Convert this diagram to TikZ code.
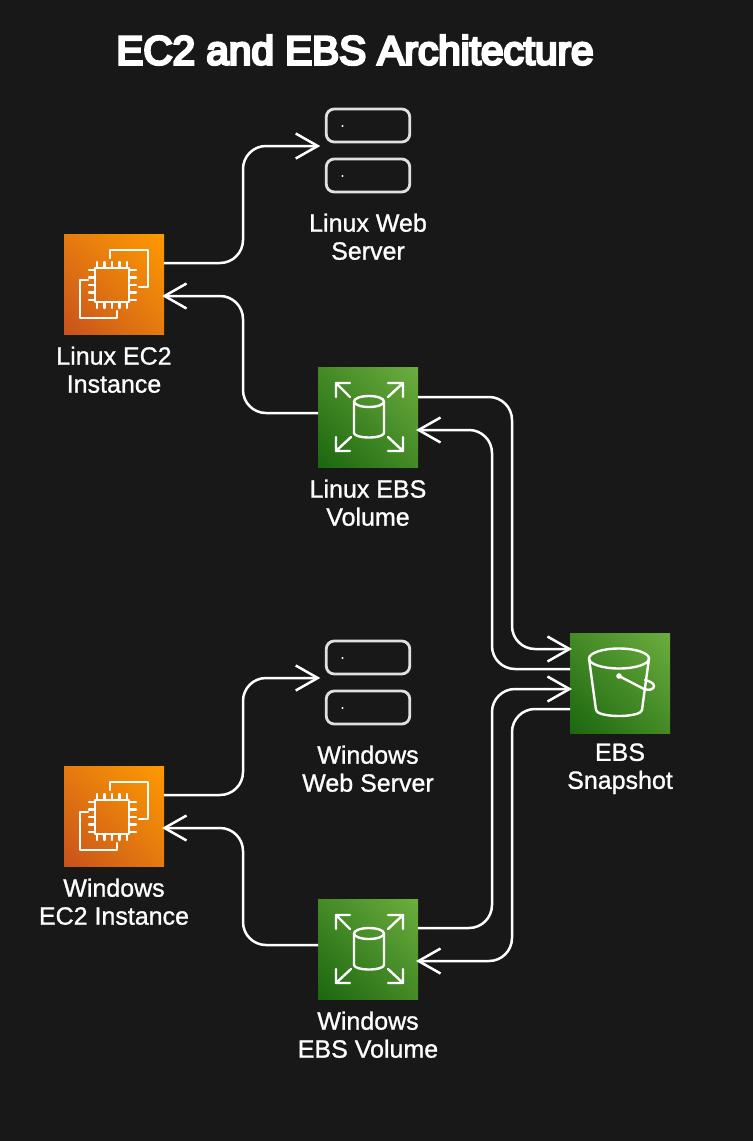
\documentclass[tikz,border=0pt]{standalone}
\usepackage{fontspec}
\setmainfont{Liberation Sans}
\newfontfamily\ttlfont[FakeBold=6.5]{Liberation Sans}
\newfontfamily\lblfont[FakeBold=1]{Liberation Sans}
\usetikzlibrary{arrows.meta,calc,shadings}
\definecolor{bgc}{HTML}{181818}
\definecolor{srv}{HTML}{E0E0E0}
\tikzset{
 x=1pt,y=-1pt,
 ec2box/.style={rectangle,inner sep=0,outer sep=0,minimum size=100pt,shade,shading=bilinear interpolation,lower left=orgD,upper right=orgL,upper left=orgM,lower right=orgM},
 grnbox/.style={rectangle,inner sep=0,outer sep=0,minimum size=100pt,shade,shading=bilinear interpolation,lower left=grnD,upper right=grnL,upper left=grnM,lower right=grnM},
 srvbox/.style={rectangle,draw=srv,line width=2.8pt,rounded corners=8pt,inner sep=0,outer sep=0,minimum width=83.5pt,minimum height=33pt},
 lbl/.style={text=white,align=center,font=\fontsize{25}{28}\selectfont\lblfont,inner sep=0},
 ttl/.style={text=white,font=\fontsize{40.5}{42}\selectfont\ttlfont,inner sep=0},
 conn/.style={draw=white,line width=2.5pt,rounded corners=23pt},
 tipped/.style={-{Straight Barb[length=22pt,width=25pt,line width=2.5pt]}},
 ico/.style={draw=white,line width=2.4pt,line cap=round,line join=round,fill=none},
}
\definecolor{orgD}{HTML}{C8511B}\definecolor{orgL}{HTML}{FF9900}\definecolor{orgM}{HTML}{E47B10}
\definecolor{grnD}{HTML}{1B660F}\definecolor{grnL}{HTML}{6CAE3E}\definecolor{grnM}{HTML}{448A26}
\newcommand{\ectwoicon}[1]{\begin{scope}[shift={(#1.north west)}]
 \draw[ico] (46,24)--(46,16)--(84,16)--(84,53)--(75,53);
 \draw[ico] (24,46)--(16,46)--(16,84)--(53,84)--(53,77);
 \draw[ico] (31,34) rectangle (65,68);
 \foreach \p in {33,40.5,48,55.5,63}{\draw[ico] (\p,28)--(\p,34);\draw[ico] (\p,68)--(\p,74);}
 \foreach \p in {36,43.5,51,58.5,66}{\draw[ico] (25,\p)--(31,\p);\draw[ico] (65,\p)--(72,\p);}
\end{scope}}
\newcommand{\ebsicon}[1]{\begin{scope}[shift={(#1.north west)}]
 \draw[ico] (36,34.5) arc[x radius=15,y radius=5.5,start angle=180,end angle=540];
 \draw[ico] (36,34.5)--(36,66) arc[x radius=15,y radius=4.5,start angle=180,end angle=0]--(66,34.5);
 \draw[ico] (32,16)--(18,16)--(18,30) (18,16)--(32,30);
 \draw[ico] (70,16)--(85,16)--(85,30) (85,16)--(70,30);
 \draw[ico] (32,84)--(18,84)--(18,70) (18,84)--(33,70);
 \draw[ico] (70,84)--(85,84)--(85,70) (85,84)--(70,70);
\end{scope}}
\newcommand{\bucketicon}[1]{\begin{scope}[shift={(#1.north west)}]
 \draw[ico] (19,25.5) arc[x radius=30,y radius=10,start angle=180,end angle=540];
 \draw[ico] (19,25.5)--(26,77) arc[x radius=23,y radius=6,start angle=180,end angle=0]--(79,25.5);
 \draw[ico] (49,43)--(74,56) .. controls (80,58) and (84,56) .. (84,53) .. controls (84,50) and (79,48) .. (75,47);
 \fill[white] (49,43) circle (2.8);
\end{scope}}
\begin{document}
\begin{tikzpicture}
\useasboundingbox[fill=bgc] (0,0) rectangle (753,1141);
\node[ttl] (title) at (355,50) {EC2 and EBS Architecture};
% boxes
\node[ec2box] (lec2) at (114,284) {};
\node[ec2box] (wec2) at (114,816) {};
\node[grnbox] (lebs) at (368,417) {};
\node[grnbox] (webs) at (368,949) {};
\node[grnbox] (snap) at (620,683) {};
\ectwoicon{lec2}\ectwoicon{wec2}\ebsicon{lebs}\ebsicon{webs}\bucketicon{snap}
\node[srvbox] (lwa) at (368,125.5) {};
\node[srvbox] (lwb) at (368,175.5) {};
\node[srvbox] (wwa) at (368,657.5) {};
\node[srvbox] (wwb) at (368,707.5) {};
\fill[white] (342.5,126) circle (1.2) (342.5,176) circle (1.2) (342.5,658) circle (1.2) (342.5,708) circle (1.2);
% labels
\node[lbl] (tlw) at (368,236.7) {Linux Web\\Server};
\node[lbl] (tle) at (114,369.7) {Linux EC2\\Instance};
\node[lbl] (tlb) at (368,502.7) {Linux EBS\\Volume};
\node[lbl] (tww) at (368,768.7) {Windows\\Web Server};
\node[lbl] (twe) at (114,901.7) {Windows\\EC2 Instance};
\node[lbl] (twb) at (368,1034.7) {Windows\\EBS Volume};
\node[lbl] (tsn) at (620,768.7) {EBS\\Snapshot};
% connector helpers
\coordinate (ma) at (243,0);
\coordinate (mb) at (492,0);
\coordinate (mc) at (512,0);
\coordinate (a1) at ($(lec2.north east)+(0,29)$);
\coordinate (a2) at ($(lwa.south west)+(-6,4)$);
\coordinate (b1) at ($(lebs.north west)+(0,46)$);
\coordinate (b2) at ($(lec2.north east)+(-2,62)$);
\coordinate (c1) at ($(lebs.north east)+(0,30)$);
\coordinate (c2) at ($(snap.north west)+(2,16)$);
\coordinate (d1) at ($(snap.north west)+(0,36)$);
\coordinate (d2) at ($(lebs.north east)+(-2,63)$);
\coordinate (e1) at ($(wec2.north east)+(0,29)$);
\coordinate (e2) at ($(wwa.south west)+(-6,4)$);
\coordinate (f1) at ($(webs.north west)+(0,46)$);
\coordinate (f2) at ($(wec2.north east)+(-2,62)$);
\coordinate (g1) at ($(webs.north east)+(0,29)$);
\coordinate (g2) at ($(snap.north west)+(2,56)$);
\coordinate (h1) at ($(snap.north west)+(0,76)$);
\coordinate (h2) at ($(webs.north east)+(-2,62)$);
\draw[conn,tipped] (a1)--(ma |- a1)--(ma |- a2)--(a2);
\draw[conn,tipped] (b1)--(ma |- b1)--(ma |- b2)--(b2);
\draw[conn,tipped] (c1)--(mc |- c1)--(mc |- c2)--(c2);
\draw[conn,tipped] (d1)--(mb |- d1)--(mb |- d2)--(d2);
\draw[conn,tipped] (e1)--(ma |- e1)--(ma |- e2)--(e2);
\draw[conn,tipped] (f1)--(ma |- f1)--(ma |- f2)--(f2);
\draw[conn,tipped] (g1)--(mb |- g1)--(mb |- g2)--(g2);
\draw[conn,tipped] (h1)--(mc |- h1)--(mc |- h2)--(h2);
\end{tikzpicture}
\end{document}
